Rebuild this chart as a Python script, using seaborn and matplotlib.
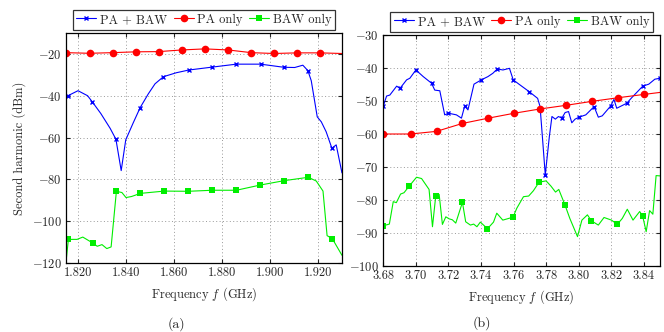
import numpy as np
import pandas as pd
import matplotlib
matplotlib.use("Agg")
import matplotlib.pyplot as plt
import seaborn as sns

# ---- (a) band around 1.87 GHz ----
a_blue_f = [1.815, 1.8158, 1.820, 1.824, 1.826, 1.8295, 1.8334, 1.8358, 1.8380, 1.8399,
            1.8430, 1.8459, 1.8493, 1.8521, 1.8556, 1.861, 1.8662, 1.8760, 1.8860, 1.8961,
            1.9058, 1.9103, 1.9137, 1.9158, 1.9172, 1.9197, 1.9214, 1.9234, 1.9258, 1.9276, 1.930]
a_blue_db = [-40.0, -40.0, -37.6, -40.0, -43.0, -48.5, -55.6, -60.8, -75.8, -61.1,
             -53.0, -45.7, -39.1, -34.3, -30.9, -29.0, -27.7, -26.3, -24.9, -24.9,
             -26.4, -26.5, -25.4, -28.0, -32.8, -50.1, -52.5, -57.2, -65.1, -63.5, -76.9]
a_blue_marks = [1, 4, 7, 11, 14, 16, 17, 18, 19, 20, 23, 28]

a_red_f = [1.815, 1.8248, 1.8344, 1.8441, 1.8537, 1.8633, 1.8729, 1.8825, 1.8922, 1.9017,
           1.9113, 1.9208, 1.930]
a_red_db = [-19.4, -19.7, -19.4, -19.0, -18.9, -18.1, -17.6, -18.1, -19.4, -19.8,
            -19.5, -19.5, -19.8]
a_red_marks = list(range(12))

a_green_f = [1.815, 1.8160, 1.8196, 1.822, 1.8261, 1.828, 1.830, 1.832, 1.8338, 1.836,
             1.8383, 1.840, 1.8423, 1.846, 1.856, 1.866, 1.876, 1.886, 1.896, 1.906,
             1.916, 1.9193, 1.9221, 1.9238, 1.926, 1.930]
a_green_db = [-119.5, -108.7, -108.7, -107.6, -110.4, -112.0, -111.2, -113.1, -112.3, -85.7,
              -86.3, -88.7, -88.2, -86.7, -85.6, -85.7, -85.2, -85.2, -82.7, -80.6,
              -79.0, -80.8, -85.6, -106.9, -108.4, -116.3]
a_green_marks = [1, 4, 9, 13, 14, 15, 16, 17, 18, 19, 20, 24]

# ---- (b) band around 3.76 GHz ----
b_blue_f = [3.680, 3.682, 3.684, 3.6882, 3.6902, 3.6943, 3.6963, 3.700, 3.7045, 3.7096,
            3.7116, 3.7147, 3.7177, 3.720, 3.7249, 3.728, 3.730, 3.732, 3.7357, 3.7402,
            3.7443, 3.7473, 3.750, 3.7535, 3.7575, 3.7598, 3.7636, 3.7697, 3.7748, 3.7763,
            3.7778, 3.7795, 3.782, 3.7836, 3.7857, 3.7876, 3.7897, 3.7917, 3.7938, 3.7958,
            3.7978, 3.8003, 3.8044, 3.8095, 3.8121, 3.8145, 3.8197, 3.8217, 3.8234, 3.8295,
            3.8330, 3.8394, 3.8431, 3.8468, 3.850]
b_blue_db = [-51.5, -48.5, -48.2, -45.5, -46.2, -43.6, -43.1, -40.6, -42.6, -44.6,
             -46.7, -46.9, -54.2, -53.7, -54.2, -55.2, -51.5, -52.7, -44.9, -43.6,
             -42.6, -41.6, -40.3, -40.6, -40.1, -43.6, -45.0, -47.2, -49.2, -51.7,
             -61.3, -72.4, -60.8, -54.7, -55.5, -54.7, -55.2, -53.5, -53.2, -56.6,
             -55.5, -54.9, -54.2, -51.7, -54.9, -54.5, -51.5, -49.5, -52.2, -50.7,
             -48.8, -45.5, -44.9, -43.4, -43.1]
b_blue_marks = [0, 4, 7, 9, 13, 16, 19, 22, 25, 27, 31, 36, 41, 43, 46, 49, 51, 54]

b_red_f = [3.680, 3.6968, 3.7127, 3.7286, 3.7445, 3.7605, 3.7765, 3.7924, 3.8083, 3.8244,
           3.8403, 3.850]
b_red_db = [-60.0, -60.0, -59.2, -56.8, -55.2, -53.7, -52.4, -51.3, -50.1, -49.0,
            -48.0, -47.4]
b_red_marks = list(range(11))

b_green_f = [3.680, 3.6837, 3.6861, 3.688, 3.6906, 3.6927, 3.6959, 3.7004, 3.7035, 3.7081,
             3.7102, 3.7122, 3.7143, 3.7163, 3.7184, 3.7204, 3.7224, 3.7245, 3.7286, 3.7306,
             3.7335, 3.7355, 3.7375, 3.7396, 3.7440, 3.7477, 3.7497, 3.7534, 3.7597, 3.7620,
             3.7661, 3.7693, 3.7722, 3.7757, 3.7800, 3.783, 3.7858, 3.7878, 3.7916, 3.7946,
             3.7993, 3.8020, 3.8054, 3.8078, 3.8121, 3.8156, 3.8202, 3.8237, 3.8268, 3.8299,
             3.8334, 3.8375, 3.8393, 3.8415, 3.8436, 3.8456, 3.8476, 3.850]
b_green_db = [-87.8, -87.3, -80.5, -80.8, -78.2, -77.8, -75.8, -73.1, -73.5, -76.8,
              -88.1, -78.8, -78.3, -87.4, -85.1, -85.7, -86.0, -87.0, -80.7, -86.6,
              -87.6, -87.3, -88.1, -86.7, -88.7, -86.7, -84.0, -86.1, -85.2, -82.5,
              -79.0, -78.8, -77.2, -74.6, -74.2, -75.8, -77.6, -76.8, -81.5, -85.6,
              -91.1, -86.1, -84.5, -86.3, -87.6, -85.3, -86.1, -87.4, -85.6, -82.8,
              -86.1, -83.5, -84.8, -89.6, -83.2, -84.3, -72.6, -72.7]
b_green_marks = [0, 6, 11, 18, 24, 28, 33, 38, 43, 47, 52]

labels = ["PA + BAW", "PA only", "BAW only"]
colors = ["#0000ff", "#ff0000", "#00ee00"]
markers = ["x", "o", "s"]
msizes = [3.5, 5.5, 5]

sns.set_style("ticks")
plt.rcParams['font.family'] = ['cmr10']
plt.rcParams['mathtext.fontset'] = 'cm'
plt.rcParams['axes.formatter.use_mathtext'] = True
plt.rcParams['font.size'] = 9
plt.rcParams['axes.unicode_minus'] = True


def draw(ax, series, xlim, ylim, xticks, yticks, xfmt):
    for (f, db, mk), lab, c, m, ms in zip(series, labels, colors, markers, msizes):
        df = pd.DataFrame({"f": f, "db": db})
        sns.lineplot(data=df, x="f", y="db", ax=ax, color=c, marker=m, markersize=ms,
                     markevery=mk, markeredgecolor=c, markeredgewidth=1 if m == "x" else 0,
                     linewidth=0.8, estimator=None, sort=False, label=lab, legend=False)
    ax.set_xlim(*xlim)
    ax.set_ylim(*ylim)
    ax.set_xticks(xticks)
    ax.set_xticklabels([xfmt.format(t) for t in xticks])
    ax.set_yticks(yticks)
    ax.grid(True, linestyle=(0, (1, 2.5)), color="#999999", linewidth=0.7)
    ax.tick_params(direction="in", top=True, right=True, length=3, labelsize=9, pad=3)
    for s in ax.spines.values():
        s.set_linewidth(0.9)
        s.set_color("black")
    ax.set_xlabel("Frequency $f$ (GHz)", fontsize=9)
    ax.set_ylabel(None)
    leg = ax.legend(loc="lower center", bbox_to_anchor=(0.5, 1.015), ncol=3, frameon=True,
                    fancybox=False, edgecolor="black", fontsize=9, handlelength=1.6,
                    handletextpad=0.3, columnspacing=0.5, borderpad=0.3, borderaxespad=0)
    leg.get_frame().set_linewidth(0.9)


fig = plt.figure(figsize=(6.64, 3.32), dpi=100)
ax1 = fig.add_axes([0.0994, 0.2078, 0.4156, 0.6928])
ax2 = fig.add_axes([0.5773, 0.1988, 0.4167, 0.6958])

draw(ax1,
     [(a_blue_f, a_blue_db, a_blue_marks), (a_red_f, a_red_db, a_red_marks),
      (a_green_f, a_green_db, a_green_marks)],
     (1.815, 1.93), (-120, -10), np.arange(1.82, 1.921, 0.02), np.arange(-120, -19, 20), "{:.3f}")
ax1.set_ylabel("Second harmonic (dBm)", fontsize=9)

draw(ax2,
     [(b_blue_f, b_blue_db, b_blue_marks), (b_red_f, b_red_db, b_red_marks),
      (b_green_f, b_green_db, b_green_marks)],
     (3.68, 3.85), (-100, -30), np.arange(3.68, 3.841, 0.02), np.arange(-100, -29, 10), "{:.2f}")

fig.text(0.266, 0.024, "(a)", ha="center", va="center", fontsize=10)
fig.text(0.725, 0.027, "(b)", ha="center", va="center", fontsize=10)

fig.savefig("out.png", dpi=100)
